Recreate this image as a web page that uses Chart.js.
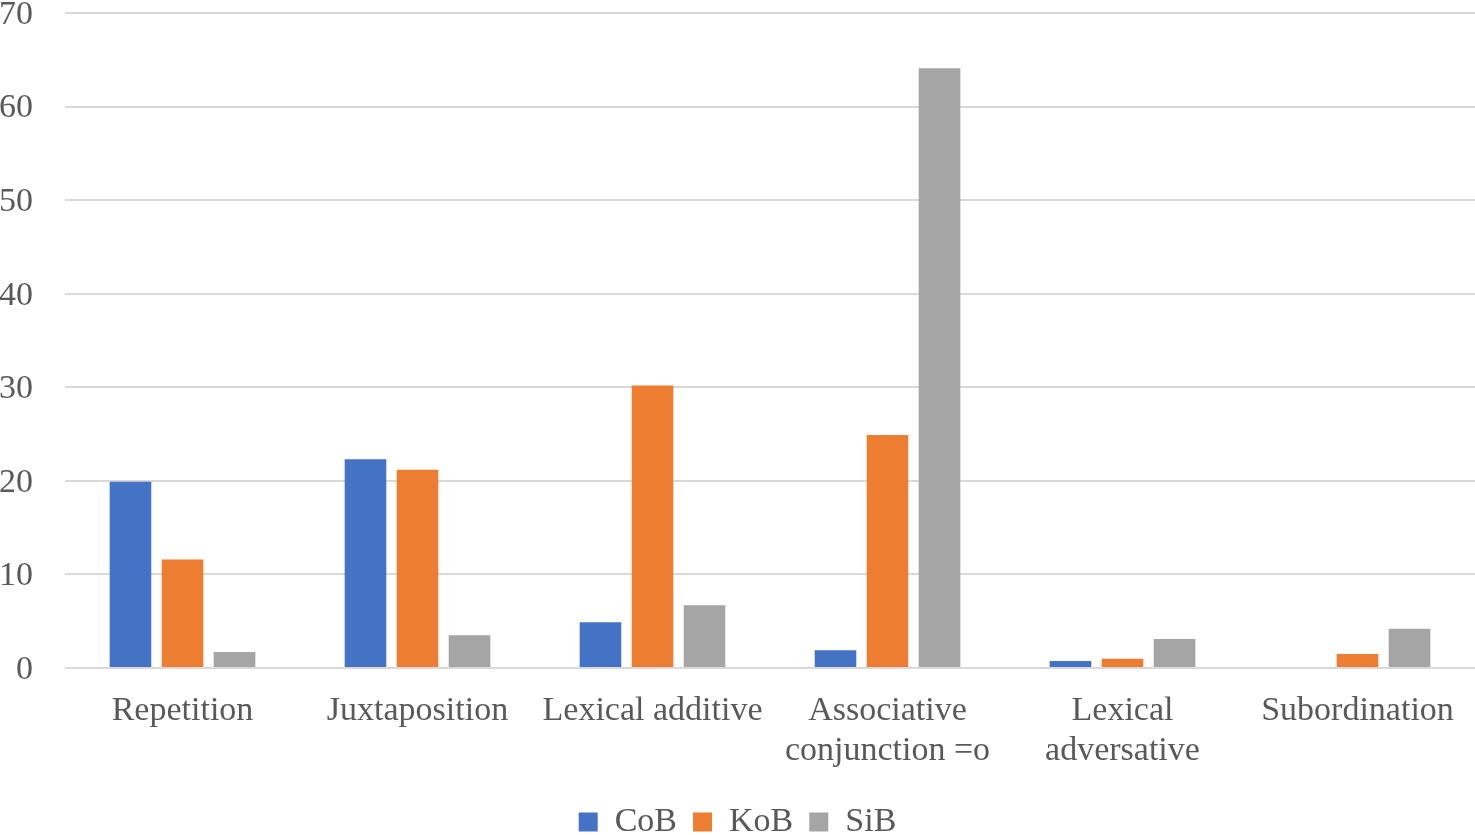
<!DOCTYPE html>
<html>
<head>
<meta charset="utf-8">
<script src="https://cdn.jsdelivr.net/npm/chart.js@4/dist/chart.umd.min.js"></script>
<style>
  html, body { margin: 0; padding: 0; background: #fff; }
  #wrap { width: 1475px; height: 835px; }
</style>
</head>
<body>
<div id="wrap"><canvas id="cohesionChart"></canvas></div>
<script>
const categories = [
  "Repetition",
  "Juxtaposition",
  "Lexical additive",
  ["Associative", "conjunction =o"],
  ["Lexical", "adversative"],
  "Subordination"
];
const cobValues = [19.9, 22.3, 4.9, 1.9, 0.75, 0];
const kobValues = [11.6, 21.2, 30.2, 24.9, 1.0, 1.5];
const sibValues = [1.7, 3.5, 6.7, 64.1, 3.1, 4.2];
const yTicks = [0, 10, 20, 30, 40, 50, 60, 70];

const ctx = document.getElementById("cohesionChart").getContext("2d");
const font = { family: "'Liberation Serif', 'Times New Roman', serif", size: 34, lineHeight: 1.18 };

// legend sits lower than Chart.js would put it, so shrink its box
const legendLow = {
  id: "legendLow",
  beforeInit(chart) {
    const legend = chart.legend;
    if (!legend) return;
    const fit = legend.fit;
    legend.fit = function () {
      fit.call(this);
      this.height = 46;
    };
  }
};

new Chart(ctx, {
  type: "bar",
  data: {
    labels: categories,
    datasets: [
      { label: "CoB", data: cobValues, backgroundColor: "#4472c4" },
      { label: "KoB", data: kobValues, backgroundColor: "#ed7d31" },
      { label: "SiB", data: sibValues, backgroundColor: "#a5a5a5" }
    ]
  },
  plugins: [legendLow],
  options: {
    responsive: true,
    maintainAspectRatio: false,
    animation: false,
    categoryPercentage: 0.664,
    barPercentage: 0.8,
    plugins: {
      tooltip: { enabled: false },
      legend: {
        position: "bottom",
        labels: {
          color: "#595959",
          font: font,
          boxWidth: 19,
          boxHeight: 19,
          padding: 16
        }
      }
    },
    scales: {
      x: {
        afterFit: (axis) => { axis.height = 121; },
        grid: { display: false },
        border: { display: false },
        ticks: { color: "#595959", font: font, maxRotation: 0, padding: 15 }
      },
      y: {
        min: 0,
        max: 70,
        afterBuildTicks: (axis) => { axis.ticks = yTicks.map(v => ({ value: v })); },
        afterFit: (axis) => {
          axis.width = 65;
          axis.paddingTop = 13;
          axis.paddingBottom = 0;
        },
        grid: { color: "#d9d9d9", lineWidth: 2, drawTicks: false },
        border: { display: false },
        ticks: { color: "#595959", font: font, padding: 32, labelOffset: 2 }
      }
    }
  }
});
</script>
</body>
</html>
